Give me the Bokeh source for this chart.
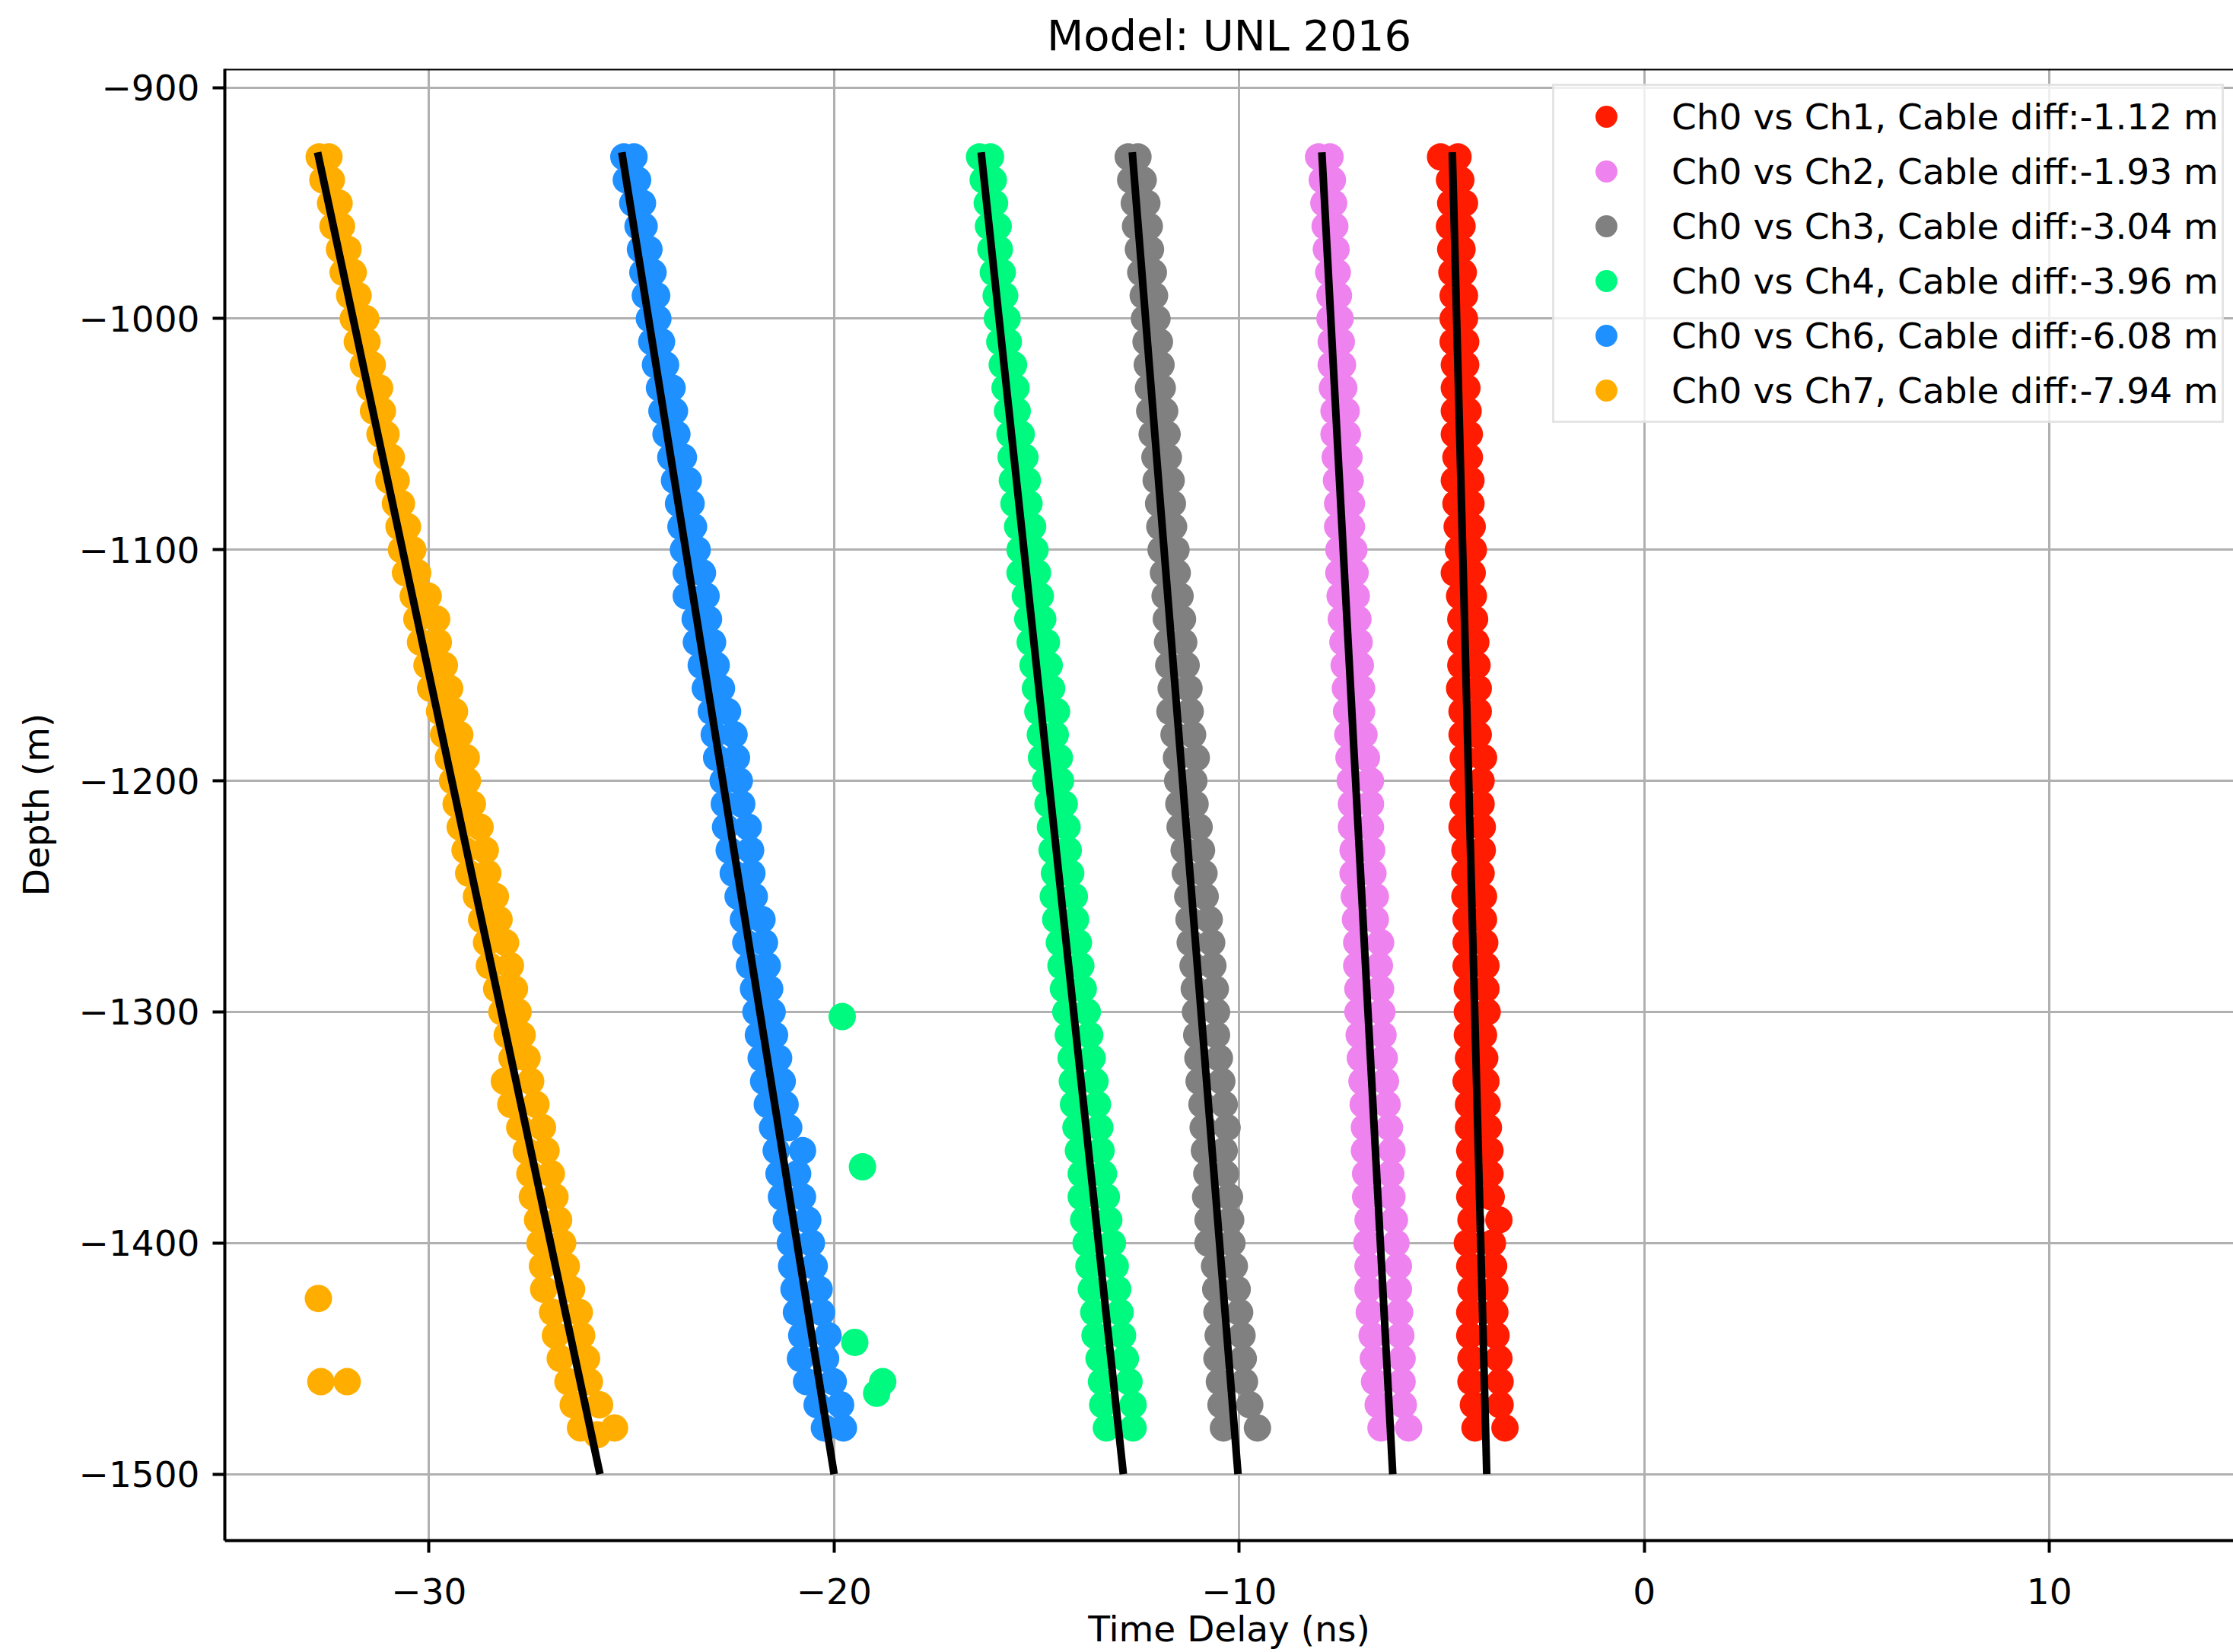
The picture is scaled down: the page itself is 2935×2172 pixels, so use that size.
from bokeh.plotting import figure
from bokeh.models import Legend, LegendItem, FixedTicker, Span, Range1d
from bokeh.embed import file_html
from bokeh.resources import INLINE

# ---------------- data ----------------
TITLE = "Model: UNL 2016"
X_LABEL = "Time Delay (ns)"
Y_LABEL = "Depth (m)"
X_TICKS = [-30, -20, -10, 0, 10]
X_TICK_LABELS = ["\u221230", "\u221220", "\u221210", "0", "10"]
Y_TICKS = [-900, -1000, -1100, -1200, -1300, -1400, -1500]
Y_TICK_LABELS = ["\u2212900", "\u22121000", "\u22121100", "\u22121200", "\u22121300", "\u22121400", "\u22121500"]

SERIES_LABELS = [
    "Ch0 vs Ch1, Cable diff:-1.12 m",
    "Ch0 vs Ch2, Cable diff:-1.93 m",
    "Ch0 vs Ch3, Cable diff:-3.04 m",
    "Ch0 vs Ch4, Cable diff:-3.96 m",
    "Ch0 vs Ch6, Cable diff:-6.08 m",
    "Ch0 vs Ch7, Cable diff:-7.94 m",
]
SERIES_COLORS = ["#ff1c00", "#ee82ee", "#808080", "#00fa7f", "#1e90ff", "#ffae00"]

# depth levels (m) at which the band edges were read
DEPTHS = [-930, -940, -950, -960, -970, -980, -990, -1000, -1010, -1020,
          -1030, -1040, -1050, -1060, -1070, -1080, -1090, -1100, -1110, -1120,
          -1130, -1140, -1150, -1160, -1170, -1180, -1190, -1200, -1210, -1220,
          -1230, -1240, -1250, -1260, -1270, -1280, -1290, -1300, -1310, -1320,
          -1330, -1340, -1350, -1360, -1370, -1380, -1390, -1400, -1410, -1420,
          -1430, -1440, -1450, -1460, -1470, -1480]

# time delays (ns): left and right side of each point band
CH1_LEFT = [-5.03, -4.81, -4.78, -4.81, -4.78, -4.75, -4.72, -4.72, -4.72, -4.69,
            -4.69, -4.69, -4.69, -4.65, -4.69, -4.65, -4.62, -4.59, -4.69, -4.56,
            -4.53, -4.53, -4.53, -4.56, -4.50, -4.50, -4.47, -4.47, -4.47, -4.50,
            -4.43, -4.43, -4.43, -4.40, -4.40, -4.40, -4.37, -4.37, -4.37, -4.34,
            -4.40, -4.34, -4.34, -4.31, -4.31, -4.31, -4.28, -4.37, -4.31, -4.28,
            -4.31, -4.31, -4.28, -4.28, -4.22, -4.18]
CH1_RIGHT = [-4.60, -4.53, -4.44, -4.50, -4.50, -4.47, -4.44, -4.44, -4.41, -4.41,
             -4.38, -4.35, -4.32, -4.32, -4.28, -4.28, -4.25, -4.22, -4.25, -4.22,
             -4.19, -4.16, -4.13, -4.10, -4.10, -4.10, -3.97, -4.03, -4.03, -4.00,
             -4.00, -4.03, -3.97, -3.97, -3.94, -3.91, -3.91, -3.88, -3.97, -3.94,
             -3.91, -3.88, -3.85, -3.81, -3.81, -3.78, -3.59, -3.75, -3.72, -3.69,
             -3.69, -3.66, -3.59, -3.56, -3.56, -3.44]
CH2_LEFT = [-8.04, -7.95, -7.91, -7.88, -7.85, -7.79, -7.76, -7.76, -7.73, -7.73,
            -7.70, -7.66, -7.66, -7.63, -7.60, -7.57, -7.57, -7.54, -7.54, -7.51,
            -7.48, -7.44, -7.41, -7.38, -7.35, -7.32, -7.29, -7.26, -7.23, -7.23,
            -7.19, -7.19, -7.16, -7.13, -7.10, -7.10, -7.07, -7.07, -7.04, -7.01,
            -6.97, -6.94, -6.91, -6.91, -6.88, -6.88, -6.82, -6.85, -6.82, -6.82,
            -6.79, -6.72, -6.69, -6.66, -6.57, -6.50]
CH2_RIGHT = [-7.76, -7.70, -7.67, -7.64, -7.61, -7.58, -7.55, -7.51, -7.48, -7.45,
             -7.42, -7.36, -7.33, -7.29, -7.26, -7.23, -7.23, -7.17, -7.14, -7.11,
             -7.07, -7.04, -7.01, -6.98, -6.98, -6.92, -6.86, -6.76, -6.76, -6.76,
             -6.73, -6.70, -6.64, -6.64, -6.51, -6.54, -6.51, -6.48, -6.45, -6.42,
             -6.39, -6.35, -6.29, -6.23, -6.26, -6.23, -6.17, -6.13, -6.07, -6.07,
             -6.04, -6.01, -5.98, -5.98, -5.95, -5.82]
CH3_LEFT = [-12.74, -12.68, -12.59, -12.56, -12.49, -12.43, -12.37, -12.34, -12.30, -12.27,
            -12.24, -12.21, -12.15, -12.08, -12.05, -11.99, -11.96, -11.93, -11.87, -11.83,
            -11.80, -11.77, -11.74, -11.68, -11.71, -11.61, -11.55, -11.52, -11.49, -11.46,
            -11.36, -11.33, -11.27, -11.24, -11.21, -11.14, -11.11, -11.08, -11.05, -11.02,
            -10.99, -10.92, -10.89, -10.86, -10.80, -10.83, -10.77, -10.77, -10.61, -10.58,
            -10.55, -10.52, -10.55, -10.49, -10.45, -10.39]
CH3_RIGHT = [-12.50, -12.37, -12.28, -12.22, -12.19, -12.12, -12.09, -12.03, -11.97, -11.93,
             -11.90, -11.84, -11.78, -11.75, -11.68, -11.65, -11.62, -11.56, -11.53, -11.46,
             -11.40, -11.37, -11.31, -11.24, -11.21, -11.15, -11.06, -11.12, -11.09, -10.99,
             -10.93, -10.87, -10.84, -10.74, -10.68, -10.65, -10.59, -10.56, -10.56, -10.49,
             -10.43, -10.37, -10.30, -10.37, -10.34, -10.24, -10.21, -10.18, -10.12, -10.05,
             -9.99, -9.93, -9.90, -9.87, -9.74, -9.55]
CH4_LEFT = [-16.41, -16.32, -16.22, -16.19, -16.13, -16.07, -16.00, -15.97, -15.91, -15.85,
            -15.78, -15.72, -15.66, -15.63, -15.60, -15.56, -15.47, -15.41, -15.41, -15.28,
            -15.22, -15.16, -15.09, -15.03, -14.97, -14.91, -14.88, -14.78, -14.72, -14.66,
            -14.62, -14.56, -14.59, -14.53, -14.44, -14.40, -14.34, -14.28, -14.22, -14.15,
            -14.12, -14.09, -14.03, -13.97, -13.90, -13.90, -13.84, -13.78, -13.71, -13.65,
            -13.59, -13.56, -13.46, -13.40, -13.37, -13.28]
CH4_RIGHT = [-16.14, -16.07, -16.04, -15.95, -15.92, -15.85, -15.79, -15.73, -15.70, -15.57,
             -15.51, -15.48, -15.38, -15.29, -15.23, -15.19, -15.10, -15.04, -14.98, -14.91,
             -14.85, -14.76, -14.69, -14.63, -14.51, -14.54, -14.44, -14.41, -14.32, -14.25,
             -14.22, -14.16, -14.07, -14.04, -13.97, -13.91, -13.85, -13.75, -13.69, -13.63,
             -13.56, -13.50, -13.44, -13.41, -13.35, -13.28, -13.22, -13.13, -13.06, -13.00,
             -12.94, -12.88, -12.81, -12.72, -12.62, -12.62]
CH6_LEFT = [-25.19, -25.13, -24.97, -24.84, -24.78, -24.72, -24.66, -24.56, -24.50, -24.41,
            -24.31, -24.25, -24.15, -24.03, -23.94, -23.84, -23.78, -23.72, -23.65, -23.65,
            -23.43, -23.40, -23.28, -23.18, -23.03, -22.96, -22.90, -22.74, -22.71, -22.68,
            -22.59, -22.49, -22.37, -22.24, -22.18, -22.09, -21.99, -21.93, -21.87, -21.80,
            -21.74, -21.65, -21.52, -21.43, -21.36, -21.30, -21.18, -21.08, -21.05, -20.99,
            -20.93, -20.80, -20.83, -20.68, -20.42, -20.24]
CH6_RIGHT = [-24.94, -24.85, -24.73, -24.69, -24.57, -24.47, -24.38, -24.35, -24.26, -24.16,
             -24.00, -23.94, -23.88, -23.72, -23.60, -23.53, -23.47, -23.38, -23.25, -23.16,
             -23.10, -23.00, -22.91, -22.78, -22.63, -22.47, -22.41, -22.34, -22.28, -22.12,
             -22.06, -22.03, -21.97, -21.78, -21.72, -21.65, -21.59, -21.53, -21.47, -21.37,
             -21.28, -21.21, -21.12, -20.78, -20.90, -20.78, -20.65, -20.56, -20.49, -20.37,
             -20.31, -20.15, -20.21, -20.02, -19.84, -19.77]
CH7_LEFT = [-32.71, -32.62, -32.43, -32.37, -32.21, -32.12, -31.96, -31.87, -31.77, -31.62,
            -31.46, -31.37, -31.21, -31.05, -30.99, -30.83, -30.74, -30.68, -30.58, -30.39,
            -30.30, -30.21, -30.05, -29.96, -29.74, -29.64, -29.52, -29.42, -29.33, -29.23,
            -29.11, -29.02, -28.83, -28.70, -28.58, -28.51, -28.33, -28.20, -28.07, -27.95,
            -28.14, -27.98, -27.76, -27.60, -27.51, -27.45, -27.32, -27.26, -27.20, -27.17,
            -26.95, -26.88, -26.76, -26.57, -26.44, -26.26]
CH7_RIGHT = [-32.47, -32.41, -32.22, -32.16, -32.00, -31.87, -31.75, -31.56, -31.53, -31.40,
             -31.22, -31.15, -31.06, -30.93, -30.81, -30.68, -30.53, -30.40, -30.28, -30.02,
             -29.81, -29.77, -29.62, -29.49, -29.37, -29.24, -29.08, -29.05, -28.93, -28.74,
             -28.61, -28.55, -28.36, -28.27, -28.11, -27.99, -27.89, -27.80, -27.70, -27.58,
             -27.49, -27.36, -27.20, -27.11, -26.98, -26.89, -26.80, -26.70, -26.61, -26.48,
             -26.29, -26.23, -26.11, -26.04, -25.79, -25.42]

# isolated points
CH1_EXTRA_X, CH1_EXTRA_Y = [], []
CH2_EXTRA_X, CH2_EXTRA_Y = [], []
CH3_EXTRA_X, CH3_EXTRA_Y = [], []
CH4_EXTRA_X = [-19.80, -19.30, -19.49, -18.95, -18.80]
CH4_EXTRA_Y = [-1302, -1367, -1443, -1465, -1460]
CH6_EXTRA_X, CH6_EXTRA_Y = [], []
CH7_EXTRA_X = [-32.73, -32.67, -32.02, -25.85]
CH7_EXTRA_Y = [-1424, -1460, -1460, -1483]

# fitted straight lines: time delay at top / bottom depth
FIT_DEPTH_TOP = -928
FIT_DEPTH_BOTTOM = -1500
FIT_X_TOP = [-4.74, -7.96, -12.64, -16.37, -25.24, -32.75]
FIT_X_BOTTOM = [-3.89, -6.21, -10.03, -12.86, -20.00, -25.78]

X_START, X_END = -35.04, 14.54
Y_START, Y_END = -1528.75, -891.9

# ---------------- figure ----------------
FONT = "DejaVu Sans"
p = figure(width=2935, height=2172, output_backend="svg", toolbar_location=None,
           x_range=Range1d(X_START, X_END), y_range=Range1d(Y_START, Y_END),
           min_border_left=295, min_border_right=0, min_border_top=89, min_border_bottom=147,
           title=TITLE)
p.background_fill_color = "white"
p.border_fill_color = "white"
p.outline_line_color = None

p.title.text_font = FONT
p.title.text_font_size = "56px"
p.title.text_font_style = "normal"
p.title.text_color = "black"
p.title.align = "center"
p.title.standoff = 23

p.xaxis.axis_label = X_LABEL
p.yaxis.axis_label = Y_LABEL
xt = FixedTicker(ticks=X_TICKS)
yt = FixedTicker(ticks=Y_TICKS)
p.xaxis.ticker = xt
p.yaxis.ticker = yt
p.xgrid.ticker = xt
p.ygrid.ticker = yt
p.xaxis.major_label_overrides = {t: s for t, s in zip(X_TICKS, X_TICK_LABELS)}
p.yaxis.major_label_overrides = {t: s for t, s in zip(Y_TICKS, Y_TICK_LABELS)}

for ax in (p.xaxis[0], p.yaxis[0]):
    ax.axis_line_width = 4
    ax.axis_line_color = "black"
    ax.major_tick_line_width = 4
    ax.major_tick_line_color = "black"
    ax.major_tick_out = 16
    ax.major_tick_in = 0
    ax.minor_tick_out = 0
    ax.minor_tick_in = 0
    ax.major_label_text_font = FONT
    ax.major_label_text_font_size = "47px"
    ax.major_label_text_color = "black"
    ax.axis_label_text_font = FONT
    ax.axis_label_text_font_size = "47px"
    ax.axis_label_text_font_style = "normal"
    ax.axis_label_text_color = "black"
p.xaxis.major_label_standoff = 33
p.yaxis.major_label_standoff = 17
p.xaxis.axis_label_standoff = 2
p.yaxis.axis_label_standoff = 26

p.grid.grid_line_color = "#b0b0b0"
p.grid.grid_line_width = 3

# top spine
p.add_layout(Span(location=Y_END, dimension="width", line_color="black", line_width=4))

series = [
    (CH1_LEFT, CH1_RIGHT, CH1_EXTRA_X, CH1_EXTRA_Y),
    (CH2_LEFT, CH2_RIGHT, CH2_EXTRA_X, CH2_EXTRA_Y),
    (CH3_LEFT, CH3_RIGHT, CH3_EXTRA_X, CH3_EXTRA_Y),
    (CH4_LEFT, CH4_RIGHT, CH4_EXTRA_X, CH4_EXTRA_Y),
    (CH6_LEFT, CH6_RIGHT, CH6_EXTRA_X, CH6_EXTRA_Y),
    (CH7_LEFT, CH7_RIGHT, CH7_EXTRA_X, CH7_EXTRA_Y),
]

items = []
for (left, right, ex, ey), color, label in zip(series, SERIES_COLORS, SERIES_LABELS):
    xs = list(left) + list(right) + list(ex)
    ys = list(DEPTHS) + list(DEPTHS) + list(ey)
    r = p.scatter(x=xs, y=ys, size=36, fill_color=color, line_color=None)
    items.append(LegendItem(label=label, renderers=[r]))

for xt0, xb0 in zip(FIT_X_TOP, FIT_X_BOTTOM):
    p.line(x=[xt0, xb0], y=[FIT_DEPTH_TOP, FIT_DEPTH_BOTTOM], line_color="black", line_width=10)

legend = Legend(items=items, location=(1745, 1469), margin=0, padding=4,
                glyph_width=128, glyph_height=72, label_height=72, spacing=0,
                label_standoff=22, label_text_font=FONT, label_text_font_size="47px",
                label_text_color="black", border_line_color="#cccccc", border_line_width=3,
                background_fill_color="white", background_fill_alpha=0.8)
p.add_layout(legend)

open("out.html", "w").write(file_html(p, INLINE))
